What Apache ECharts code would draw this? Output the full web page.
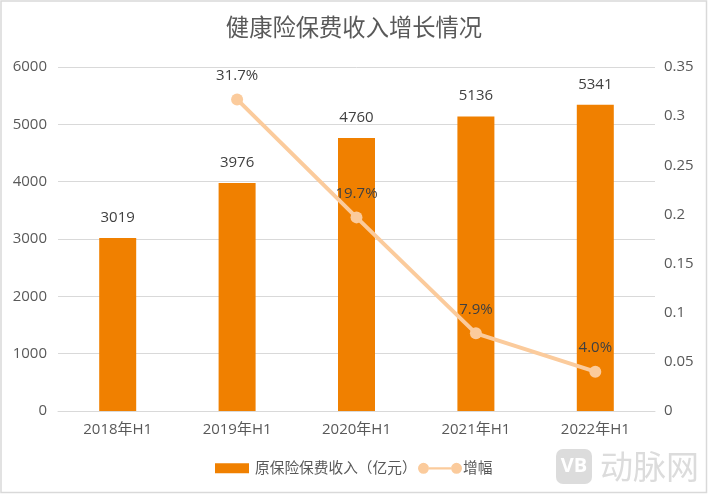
<!DOCTYPE html>
<html>
<head>
<meta charset="utf-8">
<script src="https://cdn.jsdelivr.net/npm/echarts@6/dist/echarts.min.js"></script>
<style>
html,body{margin:0;padding:0;background:#fff;}
#chartarea{width:708px;height:494px;}
</style>
</head>
<body>
<div id="chartarea"></div>
<script>
var categories = ['2018年H1', '2019年H1', '2020年H1', '2021年H1', '2022年H1'];
var premium = [3019, 3976, 4760, 5136, 5341];
var growth = [null, 0.317, 0.197, 0.079, 0.04];
var leftTicks = [0, 1000, 2000, 3000, 4000, 5000, 6000];

var font = '"Open Sans", "Noto Sans CJK SC", sans-serif';
//图例里两端带圆点的线
var lineIcon = 'path://M0,5a5,5 0 1,1 10,0a5,5 0 1,1 -10,0zM10,4H30V6H10zM30,5a5,5 0 1,1 10,0a5,5 0 1,1 -10,0z';
var chart = echarts.init(document.getElementById('chartarea'));

chart.setOption({
    animation: false,
    backgroundColor: '#fff',
    textStyle: { fontFamily: font },
    title: {
        text: '健康险保费收入增长情况',
        left: 'center',
        top: 13,
        textStyle: { fontSize: 23.3, fontWeight: 'normal', color: '#595959', fontFamily: font }
    },
    legend: [{
        top: 461,
        left: 215,
        padding: 0,
        itemWidth: 34,
        itemHeight: 10,
        textStyle: { fontSize: 14.7, color: '#595959', padding: [0, 0, 0, 1] },
        data: [{ name: '原保险保费收入（亿元）', icon: 'rect' }]
    }, {
        top: 461,
        left: 418,
        padding: 0,
        itemWidth: 44,
        itemHeight: 11,
        textStyle: { fontSize: 14.7, color: '#595959', padding: [0, 0, 0, -4] },
        data: [{ name: '增幅', icon: lineIcon, itemStyle: { color: '#fbcb9c' } }]
    }],
    grid: { left: 58, right: 53, top: 67, bottom: 83 },
    xAxis: {
        type: 'category',
        data: categories,
        axisTick: { show: false },
        axisLine: { lineStyle: { color: '#d9d9d9' } },
        axisLabel: { fontSize: 15, color: '#595959', margin: 11 }
    },
    yAxis: [{
        type: 'value',
        min: leftTicks[0],
        max: leftTicks[leftTicks.length - 1],
        interval: 1000,
        axisLine: { show: false },
        axisTick: { show: false },
        axisLabel: {
            fontSize: 15,
            color: '#595959',
            margin: 11,
            formatter: function(v) {
                return String(v);
            }
        },
        splitLine: { lineStyle: { color: '#d9d9d9' } }
    }, {
        type: 'value',
        min: 0,
        max: 0.35,
        interval: 0.05,
        axisLine: { show: false },
        axisTick: { show: false },
        axisLabel: { fontSize: 15, color: '#595959', margin: 9 },
        splitLine: { show: false }
    }],
    series: [{
        name: '原保险保费收入（亿元）',
        type: 'bar',
        data: premium,
        barWidth: 37,
        itemStyle: { color: '#f08000' },
        label: { show: true, position: 'top', distance: 13, fontSize: 15, color: '#404040' }
    }, {
        name: '增幅',
        type: 'line',
        yAxisIndex: 1,
        data: growth,
        symbol: 'circle',
        symbolSize: 12,
        lineStyle: { width: 4, color: '#fbcb9c' },
        itemStyle: { color: '#fbcb9c' },
        label: {
            show: true,
            position: 'top',
            distance: 10,
            fontSize: 15,
            color: '#404040',
            formatter: function(p) {
                return (p.value * 100).toFixed(1) + '%';
            }
        }
    }],
    graphic: [{
        //外边框
        type: 'rect',
        shape: { x: 1, y: 1, width: 705.5, height: 491.5 },
        style: { fill: 'none', stroke: '#d9d9d9', lineWidth: 1.5 }
    }, {
        //水印
        type: 'rect',
        shape: { x: 556, y: 449, width: 36, height: 35, r: 7 },
        style: { fill: '#dcdcdc' },
        silent: true
    }, {
        type: 'text',
        x: 574,
        y: 466.5,
        style: { text: 'VB', fill: '#fff', font: 'bold 20px "Open Sans"', align: 'center', verticalAlign: 'middle' }
    }, {
        type: 'text',
        x: 600,
        y: 466.5,
        style: { text: '动脉网', fill: '#dcdcdc', font: '33px "Noto Sans CJK SC"', verticalAlign: 'middle' }
    }]
});
</script>
</body>
</html>
